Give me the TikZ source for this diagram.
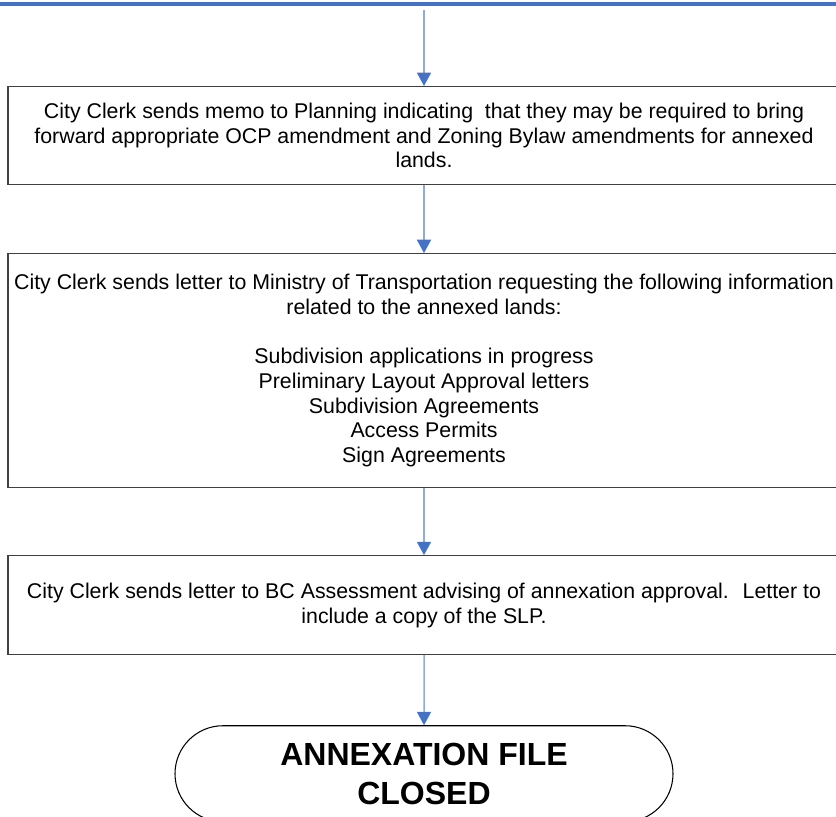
\documentclass[tikz,border=0pt]{standalone}
\usepackage{fontspec}
\setmainfont{Liberation Sans}
\usetikzlibrary{positioning,arrows.meta,shapes.misc}

\definecolor{flowblue}{HTML}{4472C4}
\definecolor{linkblue}{HTML}{8FAADC}
\definecolor{edgegray}{HTML}{404040}

\tikzset{
  stepbox/.style={draw=edgegray, line width=0.8pt, minimum width=624pt, align=center, inner sep=0pt, font=\fontsize{16}{18.5}\selectfont},
  flow/.style={draw=linkblue, line width=1.1pt, -{Triangle[width=10.5pt,length=10pt,color=flowblue]}},
  endbox/.style={draw=black, line width=0.8pt, rounded rectangle, minimum width=373.5pt, minimum height=72pt, inner sep=0pt, align=center, font=\bfseries\fontsize{24}{29.25}\selectfont}
}

\begin{document}
\begin{tikzpicture}[x=0.75pt, y=-0.75pt, node distance=51pt]
    \useasboundingbox (0,0) rectangle (836,817);
    \draw[flowblue, line width=3pt] (0,4) -- (836,4);
    \coordinate (start) at (424,10);

    \node[stepbox, anchor=north, minimum height=73.5pt] (memo) at (424,86)
      {City Clerk sends memo to Planning indicating~ that they may be required to bring\\
       forward appropriate OCP amendment and Zoning Bylaw amendments for annexed\\
       lands.};
    \node[stepbox, below=of memo, minimum height=175.5pt] (ministry)
      {City Clerk sends letter to Ministry of Transportation requesting the following information\\
       related to the annexed lands:\\[18.5pt]
       Subdivision applications in progress\\
       Preliminary Layout Approval letters\\
       Subdivision Agreements\\
       Access Permits\\
       Sign Agreements};
    \node[stepbox, below=50.25pt of ministry, minimum height=74.25pt] (assess)
      {City Clerk sends letter to BC Assessment advising of annexation approval.~ Letter to\\
       include a copy of the SLP.};
    \node[endbox, below=52.5pt of assess] (closed) {ANNEXATION FILE\\CLOSED};

    \draw[flow] (start) -- (memo);
    \draw[flow] (memo) -- (ministry);
    \draw[flow] (ministry) -- (assess);
    \draw[flow] (assess) -- (closed);
\end{tikzpicture}
\end{document}
